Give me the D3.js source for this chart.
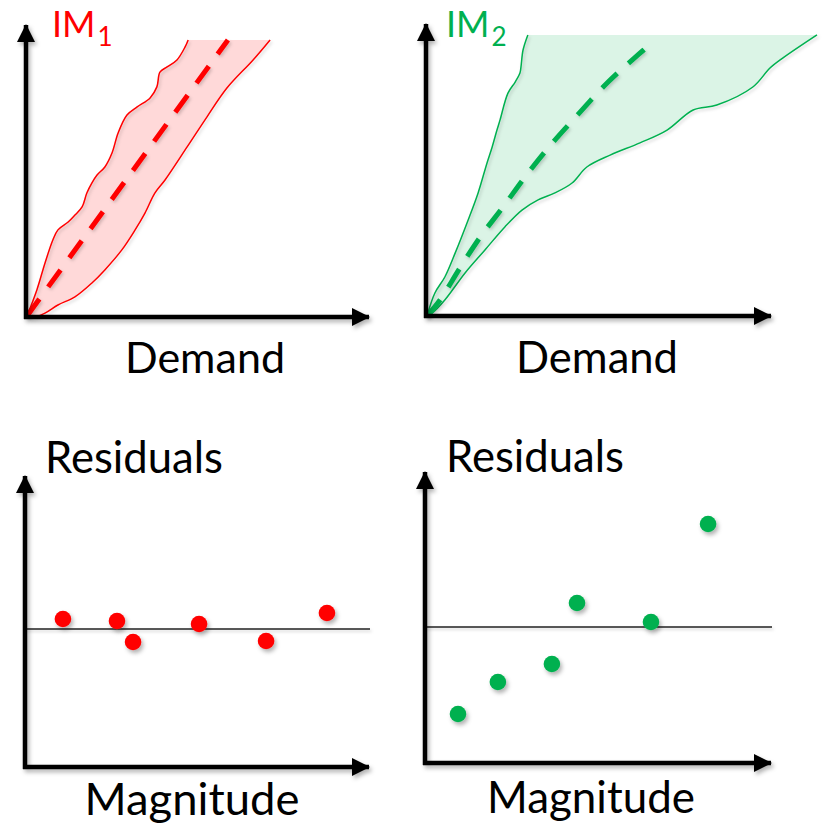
<!DOCTYPE html>
<html><head><meta charset="utf-8">
<script src="https://cdn.jsdelivr.net/npm/d3@7"></script>
<style>html,body{margin:0;padding:0;background:#fff;} svg{display:block;font-family:Lato,"Open Sans",sans-serif;}</style>
</head><body>
<svg id="chart" width="827" height="825"></svg>
<script>
// ---------------- DATA ----------------
// Panel IM1: demand (x) vs IM (y), band edges and median (arbitrary 0-100 units)
const im1UpperDemand = [0, 2.9, 5.3, 7.6, 9.1, 12.1, 14.1, 16.2, 17.6, 19.1, 20.6, 22.9, 25, 26.8, 29.4, 32.4, 36.2, 38.2, 39.1, 41.2, 44.1, 46.5, 47.4];
const im1UpperIM     = [0, 9, 18.3, 26.2, 29.7, 32.4, 34.8, 37.6, 42.4, 45.9, 48.6, 51.4, 56.2, 63.1, 69.3, 72.1, 75.2, 79, 84.1, 85.9, 88.3, 92.8, 95.2];
const im1LowerDemand = [0, 1.5, 5.3, 9.1, 14.1, 19.1, 22.9, 27.9, 31.8, 34.7, 37.6, 40.6, 47.1, 52.9, 58.8, 66.5, 71.5];
const im1LowerIM     = [0, -0.6, 1.0, 3.8, 6.6, 11.4, 15.9, 22.8, 29.7, 35.5, 42.4, 46.9, 58.3, 68.6, 78.6, 88.3, 95.2];
const im1MedianDemand = [0, 59.1];
const im1MedianIM     = [0, 95.2];

// Panel IM2
const im2UpperDemand = [0, 2.3, 5.2, 8.2, 12, 14.9, 17.5, 19, 20.4, 21.3, 23.6, 25.7, 27.1, 27.4, 28, 29.4];
const im2UpperIM     = [0, 7.9, 13.4, 21.6, 33, 42.3, 52.6, 58.1, 63.9, 67.4, 76.6, 80.4, 83.5, 85.6, 91.4, 96.6];
const im2LowerDemand = [0, 1.5, 5.2, 11.1, 16.9, 22.7, 27.7, 32.4, 37.3, 42.3, 46.6, 53.4, 62.1, 70, 77.6, 84.5, 95, 100, 103.8, 113.7];
const im2LowerIM     = [0, 1, 5.5, 14.8, 22.7, 30.6, 36.4, 39.9, 42.3, 45.7, 51.2, 55.3, 59.5, 63.9, 70.8, 72.5, 78.7, 85.2, 88.7, 96.6];
const im2MedianDemand = [0, 3.8, 9.6, 15.5, 22.2, 28.6, 35.3, 42.6, 52.8, 61.5, 65.9];
const im2MedianIM     = [0, 5.5, 16.5, 27.1, 37.5, 47.8, 57.7, 67.4, 80.4, 89.7, 94.2];

// Residual panels: magnitude (0-100) vs residual
const res1Magnitude = [10.8, 26.6, 31.3, 50.6, 70.2, 88.0];
const res1Residual  = [0.10, 0.08, -0.13, 0.05, -0.12, 0.16];
const res2Magnitude = [9.3, 20.9, 36.6, 43.9, 65.4, 82.0];
const res2Residual  = [-0.87, -0.55, -0.37, 0.24, 0.05, 1.03];

// Labels
const titles = ["IM", "IM"];
const titleSubs = ["1", "2"];
const xLabelsTop = ["Demand", "Demand"];
const yLabelsBottom = ["Residuals", "Residuals"];
const xLabelsBottom = ["Magnitude", "Magnitude"];

// ---------------- DRAW ----------------
const RED = "#ff0000", GREEN = "#00b050";
const svg = d3.select("#chart");
const defs = svg.append("defs");
function mkShadow(id, dx, dy, sd, op) {
  const f = defs.append("filter").attr("id", id).attr("filterUnits", "userSpaceOnUse")
    .attr("x", 0).attr("y", 0).attr("width", 827).attr("height", 825);
  f.append("feDropShadow").attr("dx", dx).attr("dy", dy).attr("stdDeviation", sd)
    .attr("flood-color", "#000").attr("flood-opacity", op);
}
mkShadow("shadow", 2, 3, 2, 0.3);
mkShadow("shadowLight", 1.5, 2, 1.5, 0.18);

defs.append("marker").attr("id", "arrow")
  .attr("markerUnits", "userSpaceOnUse").attr("viewBox", "0 0 18 18")
  .attr("markerWidth", 18).attr("markerHeight", 18)
  .attr("refX", 17).attr("refY", 9).attr("orient", "auto")
  .append("path").attr("d", "M0,0 L18,9 L0,18 Z").attr("fill", "#000");

const zip = (a, b) => a.map((v, i) => [v, b[i]]);

function axes(g, ox, oy, xTip, yTip) {
  const ag = g.append("g").attr("filter", "url(#shadow)");
  ag.append("line").attr("x1", ox).attr("y1", oy + 2).attr("x2", ox).attr("y2", yTip)
    .attr("stroke", "#000").attr("stroke-width", 4.5).attr("marker-end", "url(#arrow)");
  ag.append("line").attr("x1", ox - 2).attr("y1", oy).attr("x2", xTip).attr("y2", oy)
    .attr("stroke", "#000").attr("stroke-width", 4.5).attr("marker-end", "url(#arrow)");
}

function fitText(sel, target) {
  const base = 40;
  sel.attr("font-size", base);
  const w = sel.node().getComputedTextLength();
  sel.attr("font-size", base * target / w);
}

function label(text, cx, baseline, width) {
  const t = svg.append("text").attr("x", cx).attr("y", baseline).attr("text-anchor", "middle")
    .attr("fill", "#000").text(text);
  fitText(t, width);
}

function title(main, sub, x, baseline, color) {
  const t = svg.append("text").attr("x", x).attr("y", baseline).attr("fill", color).attr("font-size", 36);
  t.append("tspan").text(main);
  t.append("tspan").attr("font-size", 26).attr("dy", 9).attr("dx", 2).text(sub);
}

function bandPanel(cfg) {
  const g = svg.append("g");
  const x = d3.scaleLinear().domain([0, 100]).range(cfg.xr);
  const y = d3.scaleLinear().domain([0, 100]).range(cfg.yr);
  const up = zip(cfg.upD, cfg.upI), lo = zip(cfg.loD, cfg.loI);
  const line = d3.line().x(d => x(d[0])).y(d => y(d[1])).curve(d3.curveCatmullRom.alpha(0.5));
  const fillPath = line(up) + line(lo.slice().reverse()).replace(/^M/, "L") + "Z";
  g.append("path").attr("d", fillPath).attr("fill", cfg.color).attr("fill-opacity", cfg.fillOp).attr("stroke", "none");
  g.append("path").attr("d", line(up)).attr("fill", "none").attr("stroke", cfg.color).attr("stroke-width", 1.5).attr("filter", "url(#shadowLight)");
  g.append("path").attr("d", line(lo)).attr("fill", "none").attr("stroke", cfg.color).attr("stroke-width", 1.5).attr("filter", "url(#shadowLight)");
  const med = zip(cfg.mD, cfg.mI);
  const medLine = d3.line().x(d => x(d[0])).y(d => y(d[1])).curve(d3.curveCatmullRom.alpha(0.5));
  g.append("path").attr("d", medLine(med))
    .attr("fill", "none").attr("stroke", cfg.color).attr("stroke-width", 5)
    .attr("stroke-dasharray", "21,15").attr("filter", "url(#shadowLight)");
  axes(g, cfg.ox, cfg.oy, cfg.xTip, cfg.yTip);
}

function residPanel(cfg) {
  const g = svg.append("g");
  const x = d3.scaleLinear().domain([0, 100]).range(cfg.xr);
  const y = d3.scaleLinear().domain([-1, 1]).range(cfg.yr);
  g.append("line").attr("x1", cfg.ox).attr("x2", cfg.xTip + 1).attr("y1", y(0)).attr("y2", y(0))
    .attr("stroke", "#222").attr("stroke-width", 1.3).attr("filter", "url(#shadowLight)");
  g.selectAll("circle").data(zip(cfg.mag, cfg.res)).join("circle")
    .attr("cx", d => x(d[0])).attr("cy", d => y(d[1])).attr("r", 8.3)
    .attr("fill", cfg.color).attr("filter", "url(#shadow)");
  axes(g, cfg.ox, cfg.oy, cfg.xTip, cfg.yTip);
}

bandPanel({ xr: [27, 367], yr: [316, 26], ox: 26, oy: 317, xTip: 369, yTip: 25, color: RED, fillOp: 0.15,
  upD: im1UpperDemand, upI: im1UpperIM, loD: im1LowerDemand, loI: im1LowerIM, mD: im1MedianDemand, mI: im1MedianIM });
bandPanel({ xr: [427, 770], yr: [316, 25], ox: 426, oy: 316, xTip: 771, yTip: 24, color: GREEN, fillOp: 0.14,
  upD: im2UpperDemand, upI: im2UpperIM, loD: im2LowerDemand, loI: im2LowerIM, mD: im2MedianDemand, mI: im2MedianIM });
residPanel({ xr: [26, 368], yr: [729, 529], ox: 25, oy: 767, xTip: 369, yTip: 476, color: RED,
  mag: res1Magnitude, res: res1Residual });
residPanel({ xr: [426, 770], yr: [727, 527], ox: 425, oy: 763, xTip: 771, yTip: 472, color: GREEN,
  mag: res2Magnitude, res: res2Residual });

title(titles[0], titleSubs[0], 52, 37, RED);
title(titles[1], titleSubs[1], 446, 37, GREEN);
label(xLabelsTop[0], 205, 373, 160);
label(xLabelsTop[1], 597, 373, 162);
label(yLabelsBottom[0], 134, 473, 178);
label(yLabelsBottom[1], 535, 472, 178);
label(xLabelsBottom[0], 192, 815, 215);
label(xLabelsBottom[1], 591, 813, 208);
</script>
</body></html>
